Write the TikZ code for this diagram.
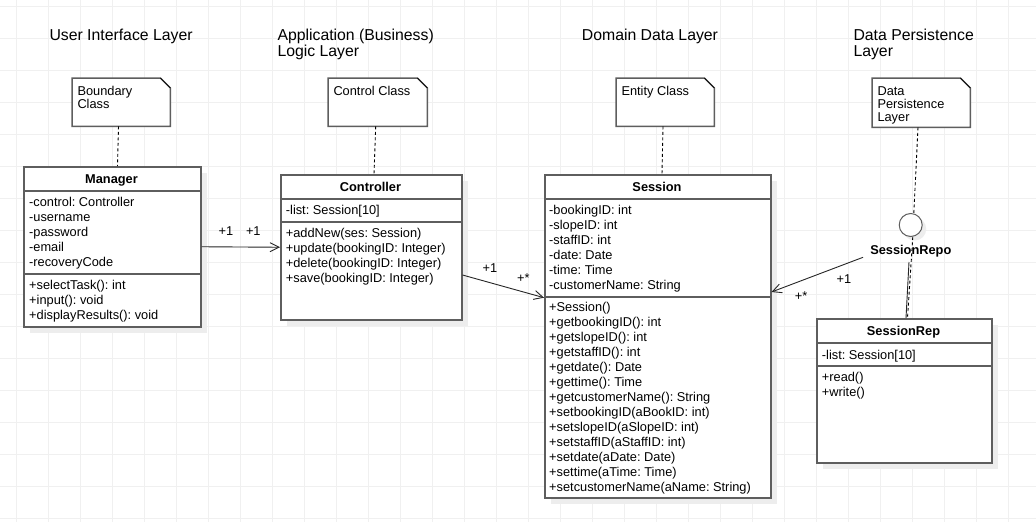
\documentclass[tikz,border=0pt]{standalone}
\usepackage{fontspec}
\setmainfont{Liberation Sans}
\usetikzlibrary{arrows.meta,shadows}
\definecolor{boxgray}{HTML}{5E5E5E}
\definecolor{gridgray}{HTML}{F0F0F0}
\definecolor{shadowgray}{HTML}{EDEDED}
\frenchspacing
\newcommand\bodyfont{\fontsize{12.8}{15}\selectfont\frenchspacing}
\newcommand\notefont{\fontsize{12.8}{12.8}\selectfont\frenchspacing}
\newcommand\titlefont{\fontsize{15.8}{16}\selectfont\frenchspacing}
\newcommand\tstrut{\rule{0pt}{10.5pt}}
\newcommand\Tstrut{\rule{0pt}{13pt}}
\begin{document}
\begin{tikzpicture}[x=1pt,y=-1pt,
 classbox/.style={draw=boxgray, line width=1.5pt, fill=white, anchor=north west, inner sep=0pt,
   drop shadow={shadow xshift=6pt, shadow yshift=-6pt, fill=shadowgray, opacity=1, draw=none}},
 sep/.style={draw=boxgray, line width=1.5pt},
 members/.style={anchor=north west, align=left, inner sep=0pt, font=\bodyfont},
 ctitle/.style={anchor=base, inner sep=0pt, font=\bodyfont\bfseries},
 notetext/.style={anchor=north west, align=left, inner sep=0pt, font=\notefont},
 notearea/.style={anchor=north west, inner sep=0pt},
 noteline/.style={draw=boxgray, line width=1.5pt, fill=white, line join=miter},
 foldline/.style={draw=black, line width=0.7pt},
 trace/.style={draw=black, line width=0.9pt, dash pattern=on 3pt off 2.5pt},
 assoc/.style={draw=black!85, line width=0.9pt, -{Straight Barb[length=9pt,width=9pt]}},
 mult/.style={anchor=base, inner sep=0pt, font=\bodyfont},
 layer/.style={anchor=north west, align=left, inner sep=0pt, font=\titlefont}]

\useasboundingbox (0,0) rectangle (1036,522);
\fill[white] (0,0) rectangle (1036,522);
\foreach \x in {16,48,...,1008} \draw[gridgray, line width=1pt] (\x,0) -- (\x,522);
\foreach \y in {6,38,...,518} \draw[gridgray, line width=1pt] (0,\y) -- (1036,\y);

% layer titles
\node[layer] (tUI) at (49.3,27.7) {\Tstrut User Interface Layer};
\node[layer] (tApp) at (277.3,27.7) {\Tstrut Application (Business)\\Logic Layer};
\node[layer] (tDom) at (581.7,27.7) {\Tstrut Domain Data Layer};
\node[layer] (tDP) at (853.3,27.7) {\Tstrut Data Persistence\\Layer};

% notes
\node[notearea, minimum width=98pt, minimum height=48pt] (nB) at (72,78) {};
\node[notearea, minimum width=99pt, minimum height=48pt] (nC) at (328,78) {};
\node[notearea, minimum width=98pt, minimum height=48pt] (nE) at (616,78) {};
\node[notearea, minimum width=98pt, minimum height=49pt] (nD) at (872,78) {};
\foreach \n in {nB,nC,nE,nD}{
  \draw[noteline] (\n.north west) -- ([xshift=-10pt]\n.north east) -- ([yshift=-10pt]\n.north east) -- (\n.south east) -- (\n.south west) -- cycle;
  \draw[foldline] ([xshift=-10pt]\n.north east) -- ([yshift=-10pt]\n.north east);
}
\node[notetext] (nBt) at (77.3,85.1) {\tstrut Boundary\\Class};
\node[notetext] (nCt) at (333.3,85.1) {\tstrut Control Class};
\node[notetext] (nEt) at (621.3,85.1) {\tstrut Entity Class};
\node[notetext] (nDt) at (877.3,85.1) {\tstrut Data\\Persistence\\Layer};

% classes
\node[classbox, minimum width=177pt, minimum height=160pt] (mgr) at (23,166) {};
\draw[sep] ([yshift=-25pt]mgr.north west) -- ([yshift=-25pt]mgr.north east);
\draw[sep] ([yshift=-108pt]mgr.north west) -- ([yshift=-108pt]mgr.north east);
\node[ctitle] (mgrT) at (111.5,183.6) {Manager};
\node[members] (mgrA) at (29,195.8) {\tstrut -control: Controller\\-username\\-password\\-email\\-recoveryCode};
\node[members] (mgrM) at (29,279.1) {\tstrut +selectTask(): int\\+input(): void\\+displayResults(): void};

\node[classbox, minimum width=181pt, minimum height=145pt] (ctrl) at (280,174) {};
\draw[sep] ([yshift=-25pt]ctrl.north west) -- ([yshift=-25pt]ctrl.north east);
\draw[sep] ([yshift=-48pt]ctrl.north west) -- ([yshift=-48pt]ctrl.north east);
\node[ctitle] (ctrlT) at (370.5,191.3) {Controller};
\node[members] (ctrlA) at (285.7,204.1) {\tstrut -list: Session[10]};
\node[members] (ctrlM) at (285.7,226.8) {\tstrut +addNew(ses: Session)\\+update(bookingID: Integer)\\+delete(bookingID: Integer)\\+save(bookingID: Integer)};

\node[classbox, minimum width=226pt, minimum height=323pt] (sess) at (544,174) {};
\draw[sep] ([yshift=-25pt]sess.north west) -- ([yshift=-25pt]sess.north east);
\draw[sep] ([yshift=-123pt]sess.north west) -- ([yshift=-123pt]sess.north east);
\node[ctitle] (sessT) at (657,191.3) {Session};
\node[members] (sessA) at (549,203.4) {\tstrut -bookingID: int\\-slopeID: int\\-staffID: int\\-date: Date\\-time: Time\\-customerName: String};
\node[members] (sessM) at (549,301.1) {\tstrut +Session()\\+getbookingID(): int\\+getslopeID(): int\\+getstaffID(): int\\+getdate(): Date\\+gettime(): Time\\+getcustomerName(): String\\+setbookingID(aBookID: int)\\+setslopeID(aSlopeID: int)\\+setstaffID(aStaffID: int)\\+setdate(aDate: Date)\\+settime(aTime: Time)\\+setcustomerName(aName: String)};

\node[classbox, minimum width=175pt, minimum height=144pt] (rep) at (816,318) {};
\draw[sep] ([yshift=-25pt]rep.north west) -- ([yshift=-25pt]rep.north east);
\draw[sep] ([yshift=-48pt]rep.north west) -- ([yshift=-48pt]rep.north east);
\node[ctitle] (repT) at (903.5,335.3) {SessionRep};
\node[members] (repA) at (821.7,348.4) {\tstrut -list: Session[10]};
\node[members] (repM) at (821.7,370.8) {\tstrut +read()\\+write()};

% interface
\node[circle, draw=boxgray, line width=1pt, fill=white, minimum size=23pt, inner sep=0pt,
  drop shadow={shadow xshift=4pt, shadow yshift=-4pt, fill=shadowgray, opacity=1, draw=none}] (iface) at (910.7,225) {};
\node[ctitle] (repoL) at (910.8,254.6) {SessionRepo};
\coordinate (solidTop) at (909,262);

% traces
\draw[trace] (nB.south -| 118.5,0) -- (mgr.north -| 117.5,0);
\draw[trace] (nC.south -| 375.7,0) -- (ctrl.north -| 374,0);
\draw[trace] (nE.south -| 663,0) -- (sess.north -| 662,0);
\draw[trace] (nD.south -| 918,0) -- (iface.75);
\draw[trace] (iface.-80) -- (rep.north -| 907.5,0);
\draw[black!85, line width=0.9pt] (solidTop) -- (rep.north -| 906,0);

% associations
\draw[assoc] (mgr.east) -- (ctrl.west);
\draw[assoc] ([yshift=-101pt]ctrl.north east) -- ([yshift=-123.7pt]sess.north west);
\draw[assoc] ([xshift=-7pt,yshift=-6pt]repoL.west) -- ([yshift=-118pt]sess.north east);

% multiplicities
\node[mult] (m1) at (226,235.3) {+1};
\node[mult] (m2) at (253.3,235.3) {+1};
\node[mult] (m3) at (490,272.6) {+1};
\node[mult] (m4) at (523.3,282) {+*};
\node[mult] (m5) at (844,283.3) {+1};
\node[mult] (m6) at (801,300) {+*};
\end{tikzpicture}
\end{document}
